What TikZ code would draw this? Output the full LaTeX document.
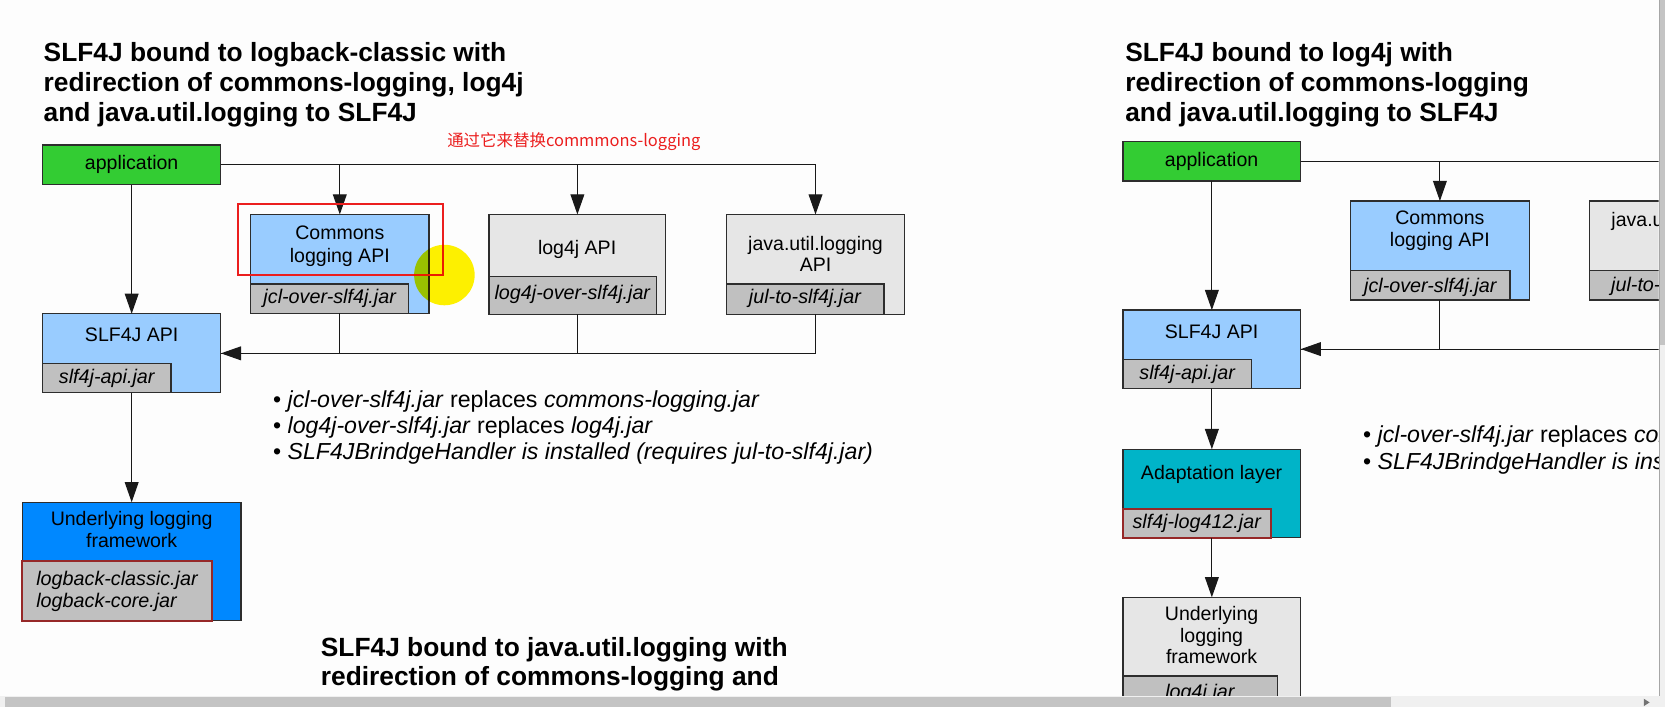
\documentclass[tikz,border=0pt]{standalone}
\usepackage{fontspec}
\setmainfont{Liberation Sans}
\newfontfamily\cjkfont{Noto Sans CJK SC}
\usetikzlibrary{arrows.meta,fit}
\definecolor{appgreen}{RGB}{51,204,51}
\definecolor{apiblue}{RGB}{153,204,255}
\definecolor{fwblue}{RGB}{0,136,255}
\definecolor{adaptteal}{RGB}{0,180,200}
\definecolor{boxgray}{RGB}{230,230,230}
\definecolor{jargray}{RGB}{192,192,192}
\definecolor{edgegray}{RGB}{45,45,45}
\definecolor{jarred}{RGB}{150,40,40}
\definecolor{markred}{RGB}{235,30,30}
\definecolor{bgwhite}{RGB}{253,253,253}
\definecolor{sbdark}{RGB}{196,196,196}
\definecolor{sblight}{RGB}{240,240,240}
\newcommand\boxfont{\fontsize{18.4}{20.5}\selectfont}
\newcommand\jarfont{\fontsize{18.6}{20.5}\selectfont\itshape}
\newcommand\titlefont{\fontsize{24.8}{28.6}\selectfont\bfseries}
\newcommand\bulletfont{\fontsize{21.8}{24.5}\selectfont}
\tikzset{
  blk/.style={draw=edgegray, line width=1.1pt, inner sep=0pt, outer sep=0pt},
  jar/.style={blk, fill=jargray},
  redjar/.style={draw=jarred, line width=1.6pt, fill=jargray, inner sep=0pt, outer sep=0pt},
  txt/.style={anchor=base, inner sep=0pt, font=\boxfont},
  jtxt/.style={anchor=base, inner sep=0pt, font=\jarfont},
  ttl/.style={anchor=base west, inner sep=0pt, font=\titlefont},
  bul/.style={anchor=base west, inner sep=0pt, font=\bulletfont},
  ln/.style={draw=black!90, line width=1.1pt},
  arr/.style={ln, -{Triangle[length=19pt,width=13pt]}},
}
\begin{document}
\begin{tikzpicture}[x=1pt,y=-1pt]
\useasboundingbox (0,0) rectangle (1568,666);
\fill[bgwhite] (0,0) rectangle (1568,666);
\begin{scope}
\clip (0,0) rectangle (1562,655);
% ---------- left diagram ----------
\node[ttl] (lt1) at (41,57.5) {SLF4J bound to logback-classic with};
\node[ttl] (lt2) at (41,86.3) {redirection of commons-logging, log4j};
\node[ttl] (lt3) at (41,114.8) {and java.util.logging to SLF4J};

\node[anchor=base west, inner sep=0pt, text=markred, font=\cjkfont\fontsize{15.5}{18}\selectfont] (note) at (421,138) {通过它来替换commmons-logging};

\node[blk, fill=appgreen, fit={(40,136.5) (208,174)}] (app) {};
\node[txt] (appT) at (124,160) {application};

\node[blk, fill=apiblue, fit={(40,295.5) (208,370)}] (slf) {};
\node[txt] (slfT) at (124,322) {SLF4J API};
\node[jar, fit={(40,342) (161,370)}] (slfJ) {};
\node[jtxt] (slfJT) at (100.5,361) {slf4j-api.jar};

\node[blk, fill=apiblue, fit={(236,202) (404,295)}] (com) {};
\node[txt] (comT1) at (320,226) {Commons};
\node[txt] (comT2) at (320,247) {logging API};
\node[jar, fit={(236,267.5) (385,295)}] (comJ) {};
\node[jtxt] (comJT) at (310.5,286) {jcl-over-slf4j.jar};

\node[blk, fill=boxgray, fit={(460.5,202) (627,296)}] (lfj) {};
\node[txt] (lfjT) at (543.5,240) {log4j API};
\node[jar, fit={(460.5,260) (618,296)}] (lfjJ) {};
\node[jtxt] (lfjJT) at (539,282.5) {log4j-over-slf4j.jar};

\node[blk, fill=boxgray, fit={(684,202) (852,296)}] (jul) {};
\node[txt] (julT1) at (768,235.5) {java.util.logging};
\node[txt] (julT2) at (768,256) {API};
\node[jar, fit={(684,267.5) (832.5,296)}] (julJ) {};
\node[jtxt] (julJT) at (758,286) {jul-to-slf4j.jar};

\node[blk, fill=fwblue, fit={(21,473) (227,584)}] (und) {};
\node[txt] (undT1) at (124,495) {Underlying logging};
\node[txt] (undT2) at (124,515.5) {framework};
\node[redjar, fit={(21,528.5) (199.5,584.5)}] (undJ) {};
\node[anchor=base west, inner sep=0pt, font=\jarfont] (undJT1) at (34,551.5) {logback-classic.jar};
\node[anchor=base west, inner sep=0pt, font=\jarfont] (undJT2) at (34,572.5) {logback-core.jar};

\draw[arr] (app.south) -- (slf.north);
\draw[arr] (app.east) -| (com.north);
\draw[arr] (app.east) -| (lfj.north);
\draw[arr] (app.east) -| (jul.north);
\draw[ln] (com.south) |- (slf.east);
\draw[ln] (lfj.south) |- (slf.east);
\draw[arr] (jul.south) |- (slf.east);
\draw[arr] (slf.south) -- (und.north);

\node[bul] (lb1) at (257,384) {• \textit{jcl-over-slf4j.jar} replaces \textit{commons-logging.jar}};
\node[bul] (lb2) at (257,408.5) {• \textit{log4j-over-slf4j.jar} replaces \textit{log4j.jar}};
\node[bul] (lb3) at (257,433) {• \textit{SLF4JBrindgeHandler is installed (requires jul-to-slf4j.jar)}};

\node[draw=markred, line width=2pt, inner sep=0pt, fit={(224,192) (417,259)}] (mark) {};
\begin{scope}[blend mode=multiply]
\node[circle, fill=yellow, inner sep=0pt, minimum size=57pt] (cursor) at (418.5,259) {};
\end{scope}

\node[ttl] (bt1) at (302,617.8) {SLF4J bound to java.util.logging with};
\node[ttl] (bt2) at (302,645.5) {redirection of commons-logging and};

% ---------- right diagram ----------
\node[ttl] (rt1) at (1059.5,57.5) {SLF4J bound to log4j with};
\node[ttl] (rt2) at (1059.5,86.3) {redirection of commons-logging};
\node[ttl] (rt3) at (1059.5,114.8) {and java.util.logging to SLF4J};

\node[blk, fill=appgreen, fit={(1057.5,133.4) (1225,170.5)}] (app2) {};
\node[txt] (app2T) at (1141,157) {application};

\node[blk, fill=apiblue, fit={(1057.5,292) (1225,365.5)}] (slf2) {};
\node[txt] (slf2T) at (1141,318.5) {SLF4J API};
\node[jar, fit={(1057.5,338.3) (1178.7,365.5)}] (slf2J) {};
\node[jtxt] (slf2JT) at (1118,357) {slf4j-api.jar};

\node[blk, fill=apiblue, fit={(1272,189.3) (1440,282.5)}] (com2) {};
\node[txt] (com2T1) at (1356,211) {Commons};
\node[txt] (com2T2) at (1356,231.7) {logging API};
\node[jar, fit={(1272,254.9) (1422,282.5)}] (com2J) {};
\node[jtxt] (com2JT) at (1347,275.6) {jcl-over-slf4j.jar};

\node[blk, fill=boxgray, fit={(1496.6,189.3) (1665,282.5)}] (jul2) {};
\node[txt] (jul2T1) at (1581,213.5) {java.util.logging};
\node[txt] (jul2T2) at (1581,234) {API};
\node[jar, fit={(1496.6,254.9) (1643,282.5)}] (jul2J) {};
\node[jtxt] (jul2JT) at (1570,274.7) {jul-to-slf4j.jar};

\node[blk, fill=adaptteal, fit={(1057.5,423) (1225,506.5)}] (ada) {};
\node[txt] (adaT) at (1141,451.4) {Adaptation layer};
\node[redjar, fit={(1057.5,479.6) (1197,506.8)}] (adaJ) {};
\node[jtxt] (adaJT) at (1127,497.5) {slf4j-log412.jar};

\node[blk, fill=boxgray, fit={(1057.5,562.5) (1225,720)}] (und2) {};
\node[txt] (und2T1) at (1141,584.5) {Underlying};
\node[txt] (und2T2) at (1141,605) {logging};
\node[txt] (und2T3) at (1141,624.7) {framework};
\node[jar, fit={(1057.5,636.6) (1203,720)}] (und2J) {};
\node[jtxt] (und2JT) at (1130,657.5) {log4j.jar};

\coordinate (rout) at (1570,151.95);
\coordinate (rin) at (1570,328.75);
\draw[ln] (app2.east) -- (rout);
\draw[arr] (app2.east) -| (com2.north);
\draw[arr] (app2.south) -- (slf2.north);
\draw[ln] (com2.south) |- (slf2.east);
\draw[arr] (rin) -- (slf2.east);
\draw[arr] (slf2.south) -- (ada.north);
\draw[arr] (ada.south) -- (und2.north);

\node[bul] (rb1) at (1283.5,417) {• \textit{jcl-over-slf4j.jar} replaces \textit{commons-logging.jar}};
\node[bul] (rb2) at (1283.5,442) {• \textit{SLF4JBrindgeHandler is installed (requires jul-to-slf4j.jar)}};
\end{scope}
% ---------- scrollbars ----------
\fill[sblight] (1562,0) rectangle (1568,655);
\fill[sbdark] (1562.5,0) rectangle (1568,325);
\draw[black!35, line width=0.6pt] (1562.3,0) -- (1562.3,655);
\fill[sblight] (0,655) rectangle (1568,666);
\fill[sbdark] (5,656) rectangle (1310,666);
\fill[black!55] (1548,658) -- (1553.5,661.5) -- (1548,665) -- cycle;
\end{tikzpicture}
\end{document}
